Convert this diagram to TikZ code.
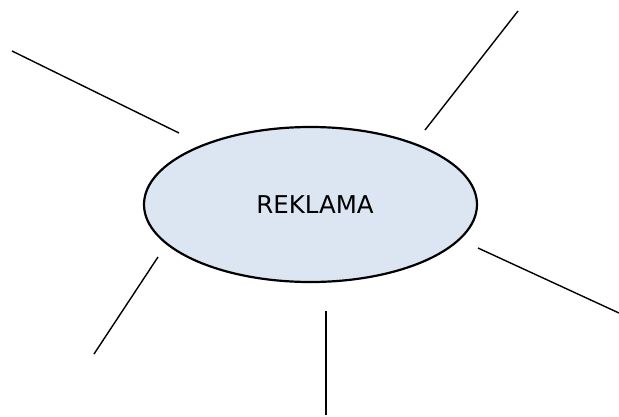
\documentclass[tikz,border=0pt]{standalone}
\usepackage{fontspec}
\setmainfont{DejaVu Sans}
\usetikzlibrary{shapes.geometric}
\definecolor{ellfill}{HTML}{DCE6F2}
\tikzset{
  hub/.style={ellipse, draw=black, line width=2.2pt, fill=ellfill, minimum width=333pt, minimum height=155pt, inner sep=0pt, font=\fontsize{24.5}{28}\selectfont},
  spoke/.style={draw=black, line width=1.4pt}
}
\begin{document}
\begin{tikzpicture}[x=1pt,y=-1pt]
\useasboundingbox (0,0) rectangle (619,416);
\node[hub] (c) at (310.5,204.5) {};
\node (t) at (315,205) {\fontsize{24.5}{28}\selectfont REKLAMA};
\coordinate (a1) at (12,51);  \coordinate (a2) at (179,133);
\coordinate (b1) at (518,11); \coordinate (b2) at (425,130);
\coordinate (d1) at (478,248); \coordinate (d2) at (619,313);
\coordinate (e1) at (326,311); \coordinate (e2) at (326,415);
\coordinate (f1) at (158,257); \coordinate (f2) at (94,354);
\draw[spoke] (a1) -- (a2);
\draw[spoke] (b1) -- (b2);
\draw[spoke] (d1) -- (d2);
\draw[spoke] (e1) -- (e2);
\draw[spoke] (f1) -- (f2);
\end{tikzpicture}
\end{document}
